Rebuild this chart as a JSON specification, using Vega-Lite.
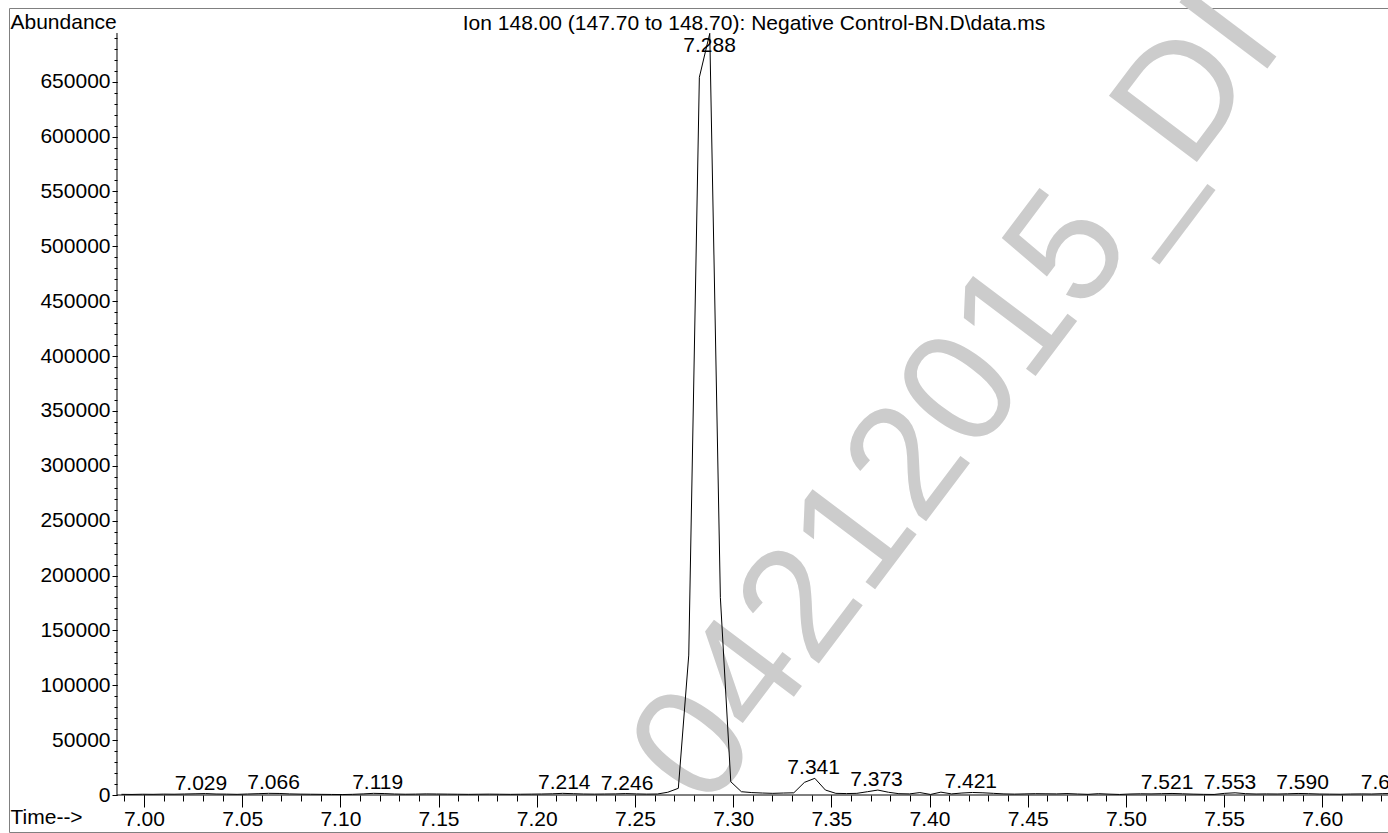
{
  "$schema": "https://vega.github.io/schema/vega-lite/v6.json",
  "width": 1379,
  "height": 824,
  "autosize": {"type": "none"},
  "padding": {"left": 9, "top": 8, "right": 0, "bottom": 1},
  "background": "white",
  "config": {
    "font": "Liberation Sans",
    "view": {"stroke": "#808080", "strokeWidth": 1},
    "axis": {"grid": false, "labelFontSize": 21, "labelColor": "#000000", "tickColor": "#000000", "tickWidth": 1, "titleFontSize": 21, "titleFontWeight": "normal", "titleColor": "#000000", "labelOverlap": false, "labelFlush": false}
  },
  "datasets": {
    "trace": [
      {"t": 6.9885, "a": 600}, {"t": 6.9939, "a": 500}, {"t": 6.9992, "a": 700}, {"t": 7.0046, "a": 600},
      {"t": 7.0099, "a": 800}, {"t": 7.0153, "a": 700}, {"t": 7.0206, "a": 900}, {"t": 7.0260, "a": 1100},
      {"t": 7.0313, "a": 1300}, {"t": 7.0367, "a": 900}, {"t": 7.0420, "a": 800}, {"t": 7.0474, "a": 600},
      {"t": 7.0527, "a": 900}, {"t": 7.0581, "a": 1200}, {"t": 7.0634, "a": 1500}, {"t": 7.0688, "a": 1400},
      {"t": 7.0741, "a": 1000}, {"t": 7.0795, "a": 800}, {"t": 7.0848, "a": 700}, {"t": 7.0902, "a": 600},
      {"t": 7.0955, "a": 500}, {"t": 7.1009, "a": 400}, {"t": 7.1062, "a": 600}, {"t": 7.1116, "a": 1000},
      {"t": 7.1169, "a": 1500}, {"t": 7.1223, "a": 1300}, {"t": 7.1276, "a": 900}, {"t": 7.1330, "a": 700},
      {"t": 7.1383, "a": 800}, {"t": 7.1437, "a": 1000}, {"t": 7.1490, "a": 900}, {"t": 7.1544, "a": 800},
      {"t": 7.1597, "a": 700}, {"t": 7.1651, "a": 600}, {"t": 7.1704, "a": 700}, {"t": 7.1758, "a": 800},
      {"t": 7.1811, "a": 700}, {"t": 7.1865, "a": 600}, {"t": 7.1918, "a": 700}, {"t": 7.1972, "a": 800},
      {"t": 7.2025, "a": 900}, {"t": 7.2079, "a": 1100}, {"t": 7.2132, "a": 1500}, {"t": 7.2186, "a": 1200},
      {"t": 7.2239, "a": 900}, {"t": 7.2293, "a": 800}, {"t": 7.2346, "a": 900}, {"t": 7.2400, "a": 1000},
      {"t": 7.2453, "a": 1300}, {"t": 7.2507, "a": 1000}, {"t": 7.2560, "a": 800}, {"t": 7.2614, "a": 900},
      {"t": 7.2667, "a": 2500}, {"t": 7.2721, "a": 6100}, {"t": 7.2774, "a": 127500}, {"t": 7.2828, "a": 654000},
      {"t": 7.2881, "a": 694000}, {"t": 7.2935, "a": 180000}, {"t": 7.2988, "a": 12100}, {"t": 7.3042, "a": 3000},
      {"t": 7.3095, "a": 2200}, {"t": 7.3149, "a": 1800}, {"t": 7.3202, "a": 1500}, {"t": 7.3256, "a": 1800},
      {"t": 7.3309, "a": 2000}, {"t": 7.3363, "a": 11500}, {"t": 7.3416, "a": 15200}, {"t": 7.3470, "a": 4500},
      {"t": 7.3523, "a": 1500}, {"t": 7.3577, "a": 1300}, {"t": 7.3630, "a": 1500}, {"t": 7.3684, "a": 3000},
      {"t": 7.3737, "a": 4500}, {"t": 7.3791, "a": 2500}, {"t": 7.3844, "a": 1200}, {"t": 7.3898, "a": 1000},
      {"t": 7.3951, "a": 2200}, {"t": 7.4005, "a": 500}, {"t": 7.4058, "a": 2600}, {"t": 7.4112, "a": 1000},
      {"t": 7.4165, "a": 1800}, {"t": 7.4219, "a": 2300}, {"t": 7.4272, "a": 2000}, {"t": 7.4326, "a": 1500},
      {"t": 7.4379, "a": 1000}, {"t": 7.4433, "a": 800}, {"t": 7.4486, "a": 1000}, {"t": 7.4540, "a": 1200},
      {"t": 7.4593, "a": 1100}, {"t": 7.4647, "a": 1000}, {"t": 7.4700, "a": 1300}, {"t": 7.4754, "a": 900},
      {"t": 7.4807, "a": 600}, {"t": 7.4861, "a": 1200}, {"t": 7.4914, "a": 800}, {"t": 7.4968, "a": 500},
      {"t": 7.5021, "a": 900}, {"t": 7.5075, "a": 1100}, {"t": 7.5128, "a": 1000}, {"t": 7.5182, "a": 1200},
      {"t": 7.5235, "a": 1400}, {"t": 7.5289, "a": 1100}, {"t": 7.5342, "a": 800}, {"t": 7.5396, "a": 600},
      {"t": 7.5449, "a": 500}, {"t": 7.5503, "a": 1500}, {"t": 7.5556, "a": 2000}, {"t": 7.5610, "a": 1200},
      {"t": 7.5663, "a": 900}, {"t": 7.5717, "a": 1000}, {"t": 7.5770, "a": 900}, {"t": 7.5824, "a": 1100},
      {"t": 7.5877, "a": 1400}, {"t": 7.5931, "a": 1200}, {"t": 7.5984, "a": 900}, {"t": 7.6038, "a": 800},
      {"t": 7.6091, "a": 700}, {"t": 7.6145, "a": 900}, {"t": 7.6198, "a": 1000}, {"t": 7.6252, "a": 900},
      {"t": 7.6305, "a": 1200}, {"t": 7.6359, "a": 1400}
    ],
    "peaks": [
      {"t": 7.029, "a": 1300, "label": "7.029"},
      {"t": 7.066, "a": 1500, "label": "7.066"},
      {"t": 7.119, "a": 1500, "label": "7.119"},
      {"t": 7.214, "a": 1500, "label": "7.214"},
      {"t": 7.246, "a": 1300, "label": "7.246"},
      {"t": 7.341, "a": 15200, "label": "7.341"},
      {"t": 7.373, "a": 4500, "label": "7.373"},
      {"t": 7.421, "a": 2300, "label": "7.421"},
      {"t": 7.521, "a": 1400, "label": "7.521"},
      {"t": 7.553, "a": 2000, "label": "7.553"},
      {"t": 7.590, "a": 1400, "label": "7.590"},
      {"t": 7.633, "a": 1400, "label": "7.633"}
    ],
    "toppeak": [
      {"t": 7.288, "a": 694370, "label": "7.288"}
    ]
  },
  "layer": [
    {
      "data": {"values": [{"text": "04212015_DI"}]},
      "mark": {"type": "text", "angle": -53, "fontSize": 160, "color": "#cccccc", "align": "left", "baseline": "alphabetic"},
      "encoding": {
        "x": {"datum": 7.28669, "type": "quantitative", "scale": {"domain": [6.93126, 7.63347], "nice": false, "zero": false},
          "axis": {
            "orient": "top", "values": [], "ticks": false, "labels": false, "domain": false, "offset": 0,
            "title": "Ion 148.00 (147.70 to 148.70): Negative Control-BN.D\\data.ms",
            "titleX": 744.5, "titleY": 21.5, "titleAlign": "center", "titleBaseline": "alphabetic", "titleAngle": 0
          }
        },
        "y": {"datum": -15583, "type": "quantitative", "scale": {"domain": [-33716, 717150], "nice": false, "zero": false}, "axis": null},
        "text": {"field": "text"}
      }
    },
    {
      "data": {"name": "trace"},
      "mark": {"type": "line", "color": "#000000", "strokeWidth": 1, "clip": true},
      "encoding": {
        "x": {
          "field": "t", "type": "quantitative",
          "scale": {"domain": [6.93126, 7.63347], "nice": false, "zero": false},
          "axis": {
            "orient": "bottom",
            "values": [7.0, 7.05, 7.1, 7.15, 7.2, 7.25, 7.3, 7.35, 7.4, 7.45, 7.5, 7.55, 7.6],
            "format": ".2f", "tickSize": 12, "labelPadding": 18.5, "labelBaseline": "alphabetic",
            "domain": false, "offset": -37,
            "title": "Time-->", "titleX": 1, "titleY": 28, "titleAlign": "left", "titleBaseline": "alphabetic"
          }
        },
        "y": {
          "field": "a", "type": "quantitative",
          "scale": {"domain": [-33716, 717150], "nice": false, "zero": false},
          "axis": {
            "orient": "left",
            "values": [0, 50000, 100000, 150000, 200000, 250000, 300000, 350000, 400000, 450000, 500000, 550000, 600000, 650000],
            "format": "d", "tickSize": 5, "labelPadding": 2,
            "domain": false, "offset": -108,
            "title": "Abundance", "titleAngle": 0, "titleX": -107, "titleY": 20, "titleAlign": "left", "titleBaseline": "alphabetic"
          }
        }
      }
    },
    {
      "data": {"values": [{}]},
      "mark": {"type": "rule", "color": "#000000", "strokeWidth": 1},
      "encoding": {
        "x": {"datum": 6.98625, "type": "quantitative", "scale": {"domain": [6.93126, 7.63347], "nice": false, "zero": false},
          "axis": {
            "orient": "bottom",
            "values": [6.99, 7.0, 7.01, 7.02, 7.03, 7.04, 7.05, 7.06, 7.07, 7.08, 7.09, 7.1, 7.11, 7.12, 7.13, 7.14, 7.15, 7.16, 7.17, 7.18, 7.19, 7.2, 7.21, 7.22, 7.23, 7.24, 7.25, 7.26, 7.27, 7.28, 7.29, 7.3, 7.31, 7.32, 7.33, 7.34, 7.35, 7.36, 7.37, 7.38, 7.39, 7.4, 7.41, 7.42, 7.43, 7.44, 7.45, 7.46, 7.47, 7.48, 7.49, 7.5, 7.51, 7.52, 7.53, 7.54, 7.55, 7.56, 7.57, 7.58, 7.59, 7.6, 7.61, 7.62, 7.63],
            "tickSize": 6, "labels": false, "domain": false, "offset": -37, "title": null
          }
        },
        "x2": {"datum": 7.63347},
        "y": {"datum": 0, "type": "quantitative", "scale": {"domain": [-33716, 717150], "nice": false, "zero": false}, "axis": null}
      }
    },
    {
      "data": {"values": [{}]},
      "mark": {"type": "rule", "color": "#000000", "strokeWidth": 1},
      "encoding": {
        "x": {"datum": 6.98625, "type": "quantitative", "scale": {"domain": [6.93126, 7.63347], "nice": false, "zero": false}, "axis": null},
        "y": {"datum": 0, "type": "quantitative", "scale": {"domain": [-33716, 717150], "nice": false, "zero": false},
          "axis": {
            "orient": "left",
            "values": [0, 10000, 20000, 30000, 40000, 50000, 60000, 70000, 80000, 90000, 100000, 110000, 120000, 130000, 140000, 150000, 160000, 170000, 180000, 190000, 200000, 210000, 220000, 230000, 240000, 250000, 260000, 270000, 280000, 290000, 300000, 310000, 320000, 330000, 340000, 350000, 360000, 370000, 380000, 390000, 400000, 410000, 420000, 430000, 440000, 450000, 460000, 470000, 480000, 490000, 500000, 510000, 520000, 530000, 540000, 550000, 560000, 570000, 580000, 590000, 600000, 610000, 620000, 630000, 640000, 650000, 660000, 670000, 680000, 690000],
            "tickSize": 3, "labels": false, "domain": false, "offset": -108, "title": null
          }
        },
        "y2": {"datum": 694370}
      }
    },
    {
      "data": {"name": "peaks"},
      "mark": {"type": "text", "fontSize": 21, "color": "#000000", "align": "center", "baseline": "alphabetic", "dy": -4},
      "encoding": {
        "x": {"field": "t", "type": "quantitative", "scale": {"domain": [6.93126, 7.63347], "nice": false, "zero": false}, "axis": null},
        "y": {"field": "a", "type": "quantitative", "scale": {"domain": [-33716, 717150], "nice": false, "zero": false}, "axis": null},
        "text": {"field": "label"}
      }
    },
    {
      "data": {"name": "toppeak"},
      "mark": {"type": "text", "fontSize": 21, "color": "#000000", "align": "center", "baseline": "alphabetic", "dy": 19},
      "encoding": {
        "x": {"field": "t", "type": "quantitative", "scale": {"domain": [6.93126, 7.63347], "nice": false, "zero": false}, "axis": null},
        "y": {"field": "a", "type": "quantitative", "scale": {"domain": [-33716, 717150], "nice": false, "zero": false}, "axis": null},
        "text": {"field": "label"}
      }
    }
  ],
  "resolve": {"axis": {"x": "independent", "y": "independent"}}
}
